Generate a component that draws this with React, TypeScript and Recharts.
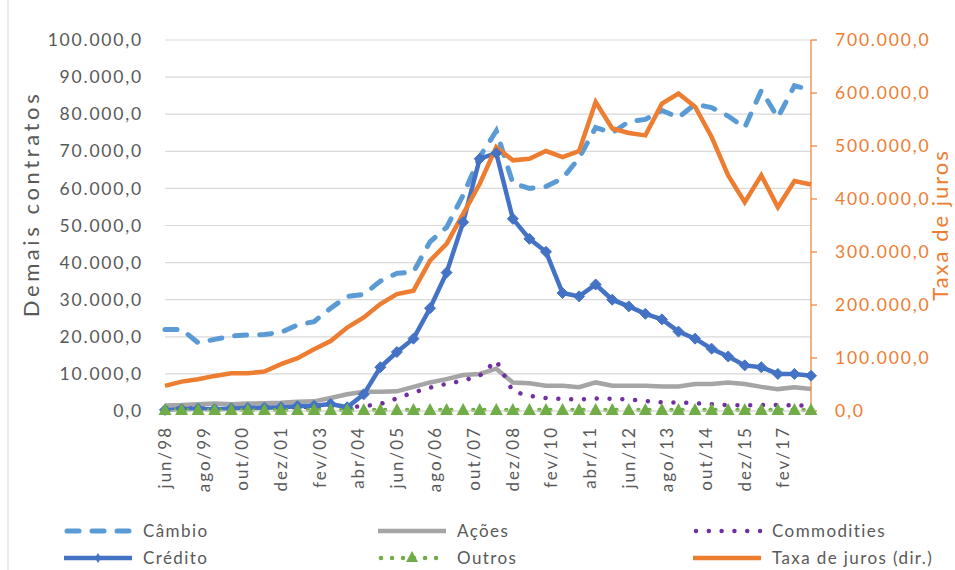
import React from 'react';
import { LineChart, Line, XAxis, YAxis, CartesianGrid } from 'recharts';

// semiannual observations
const periods = [
  'jun/98', 'dez/98', 'jun/99', 'dez/99', 'jun/00', 'dez/00', 'jun/01', 'dez/01',
  'jun/02', 'dez/02', 'jun/03', 'dez/03', 'jun/04', 'dez/04', 'jun/05', 'dez/05',
  'jun/06', 'dez/06', 'jun/07', 'dez/07', 'jun/08', 'dez/08', 'jun/09', 'dez/09',
  'jun/10', 'dez/10', 'jun/11', 'dez/11', 'jun/12', 'dez/12', 'jun/13', 'dez/13',
  'jun/14', 'dez/14', 'jun/15', 'dez/15', 'jun/16', 'dez/16', 'jun/17', 'dez/17',
];

const tickLabels = [
  'jun/98', 'ago/99', 'out/00', 'dez/01', 'fev/03', 'abr/04', 'jun/05', 'ago/06', 'out/07',
  'dez/08', 'fev/10', 'abr/11', 'jun/12', 'ago/13', 'out/14', 'dez/15', 'fev/17',
];

const cambio = [
  22000, 22000, 18400, 19300, 20200, 20500, 20600, 21200, 23200, 24100,
  27700, 30900, 31400, 35000, 37100, 37500, 45600, 49500, 58200, 68500,
  75500, 61400, 60000, 60500, 62700, 68200, 76400, 75000, 78000, 78600,
  81000, 79100, 82700, 81800, 79500, 76400, 86400, 79100, 87700, 86500,
];

const acoes = [
  1500, 1600, 1800, 2000, 1800, 2000, 2100, 2200, 2500, 2600,
  3500, 4500, 5200, 5200, 5300, 6500, 7700, 8600, 9700, 10000,
  11400, 7700, 7500, 6800, 6800, 6400, 7700, 6800, 6800, 6800,
  6600, 6600, 7300, 7300, 7700, 7300, 6500, 5900, 6400, 5900,
];

const commodities = [
  500, 600, 700, 600, 800, 800, 900, 1000, 1000, 1100,
  1000, 1000, 1300, 1900, 3400, 5000, 6300, 7300, 8200, 9500,
  13600, 5300, 4100, 3500, 3200, 3100, 3400, 3300, 3100, 2700,
  2300, 2300, 2100, 1800, 1600, 1500, 1600, 1600, 1500, 1500,
];

const credito = [
  300, 500, 600, 500, 700, 800, 900, 1000, 1300, 1400,
  1900, 1000, 4500, 11800, 15900, 19500, 27700, 37300, 50900, 68000,
  69500, 51800, 46400, 42900, 31800, 30900, 34100, 30000, 28200, 26200,
  24700, 21400, 19500, 16800, 14700, 12300, 11800, 10000, 10000, 9500,
];

const outros = [
  300, 300, 300, 300, 300, 300, 300, 300, 300, 300,
  300, 300, 300, 300, 300, 300, 300, 300, 300, 300,
  300, 300, 300, 300, 300, 300, 300, 300, 300, 300,
  300, 300, 300, 300, 300, 300, 300, 300, 300, 300,
];

const taxaJuros = [
  47300, 55500, 60000, 66200, 71200, 71200, 74400, 88300, 99600, 116600,
  132000, 157600, 176500, 201800, 220700, 227000, 283700, 315300, 372000, 428700,
  498000, 473000, 476000, 490500, 479000, 490500, 583000, 533000, 524600, 520000,
  580000, 599000, 574000, 517000, 444500, 394000, 444500, 384600, 434000, 427500,
];

const leftTicks = [0, 10000, 20000, 30000, 40000, 50000, 60000, 70000, 80000, 90000, 100000];
const rightTicks = [0, 100000, 200000, 300000, 400000, 500000, 600000, 700000];

const MONTHS = ['jan', 'fev', 'mar', 'abr', 'mai', 'jun', 'jul', 'ago', 'set', 'out', 'nov', 'dez'];
const monthNumber = (label: string) => {
  const [m, y] = label.split('/');
  const yy = Number(y);
  const year = yy < 50 ? 2000 + yy : 1900 + yy;
  return year * 12 + MONTHS.indexOf(m);
};
const base = monthNumber(periods[0]);
const lastMonth = monthNumber(periods[periods.length - 1]) - base;
const xTicks = tickLabels.map((l) => monthNumber(l) - base);
const labelByMonth: Record<number, string> = {};
tickLabels.forEach((l, i) => (labelByMonth[xTicks[i]] = l));

const data = periods.map((p, i) => ({
  t: monthNumber(p) - base,
  cambio: cambio[i],
  acoes: acoes[i],
  commodities: commodities[i],
  credito: credito[i],
  outros: outros[i],
  taxa: taxaJuros[i],
}));

const fmtBR = (v: number) =>
  Math.round(v).toString().replace(/\B(?=(\d{3})+(?!\d))/g, '.') + ',0';

const FONT = 'Lato, sans-serif';
const GREY_TEXT = '#595959';
const ORANGE = '#ED7D31';

const XTick = (props: any) => {
  const { x, y, payload } = props;
  return (
    <text
      x={x}
      y={y}
      dy="0.35em"
      transform={`rotate(-90, ${x}, ${y})`}
      textAnchor="end"
      fontFamily={FONT}
      fontSize={17}
      letterSpacing={2}
      fill={GREY_TEXT}
    >
      {labelByMonth[payload.value] ?? ''}
    </text>
  );
};

const LeftTick = (props: any) => {
  const { x, y, payload } = props;
  return (
    <text x={x} y={y} dy="0.35em" textAnchor="end" fontFamily={FONT} fontSize={17.5} letterSpacing={1.8} fill={GREY_TEXT}>
      {fmtBR(payload.value)}
    </text>
  );
};

const RightTick = (props: any) => {
  const { x, y, payload } = props;
  return (
    <text x={x} y={y} dy="0.35em" textAnchor="start" fontFamily={FONT} fontSize={17.5} letterSpacing={1.8} fill={ORANGE}>
      {fmtBR(payload.value)}
    </text>
  );
};

const Diamond = (props: any) => {
  const { cx, cy, index } = props;
  if (cx == null || cy == null) return <g key={index} />;
  const r = 5.5;
  return (
    <polygon
      key={index}
      points={`${cx},${cy - r} ${cx + r},${cy} ${cx},${cy + r} ${cx - r},${cy}`}
      fill="#4472C4"
      stroke="#4472C4"
      strokeWidth={1}
    />
  );
};

const Triangle = (props: any) => {
  const { cx, cy, index } = props;
  if (cx == null || cy == null) return <g key={index} />;
  return (
    <polygon
      key={index}
      points={`${cx},${cy - 7} ${cx + 6.5},${cy + 5} ${cx - 6.5},${cy + 5}`}
      fill="#70AD47"
    />
  );
};

const legendItems = [
  { name: 'Câmbio', color: '#5B9BD5', kind: 'dash', col: 0, row: 0 },
  { name: 'Ações', color: '#A5A5A5', kind: 'solid', col: 1, row: 0 },
  { name: 'Commodities', color: '#7030A0', kind: 'dot', col: 2, row: 0 },
  { name: 'Crédito', color: '#4472C4', kind: 'diamond', col: 0, row: 1 },
  { name: 'Outros', color: '#70AD47', kind: 'triangle', col: 1, row: 1 },
  { name: 'Taxa de juros (dir.)', color: ORANGE, kind: 'solid', col: 2, row: 1 },
];

const LegendIcon = ({ item, x, y }: { item: any; x: number; y: number }) => {
  const w = 68;
  if (item.kind === 'dash')
    return (
      <line x1={x + 3} y1={y} x2={x + w - 3} y2={y} stroke={item.color} strokeWidth={5}
        strokeDasharray="12 13" strokeLinecap="round" />
    );
  if (item.kind === 'dot')
    return (
      <line x1={x + 3} y1={y} x2={x + w} y2={y} stroke={item.color} strokeWidth={4.5}
        strokeDasharray="0.01 12.8" strokeLinecap="round" />
    );
  if (item.kind === 'triangle') {
    const cx = x + w / 2;
    return (
      <g>
        <line x1={x + 3} y1={y} x2={x + w} y2={y} stroke={item.color} strokeWidth={4.5}
          strokeDasharray="0.01 11" strokeLinecap="round" />
        <polygon points={`${cx},${y - 7} ${cx + 6},${y + 4} ${cx - 6},${y + 4}`} fill={item.color} />
      </g>
    );
  }
  if (item.kind === 'diamond') {
    const cx = x + w / 2;
    return (
      <g>
        <line x1={x} y1={y} x2={x + w} y2={y} stroke={item.color} strokeWidth={4.5} />
        <polygon points={`${cx},${y - 5} ${cx + 3},${y} ${cx},${y + 5} ${cx - 3},${y}`} fill={item.color} />
      </g>
    );
  }
  return <line x1={x} y1={y} x2={x + w} y2={y} stroke={item.color} strokeWidth={4.5} />;
};

const Overlay = () => {
  const colX = [64, 378, 693];
  const rowY = [531, 558];
  return (
    <svg width={955} height={570} style={{ position: 'absolute', left: 0, top: 0, pointerEvents: 'none' }}>
      <line x1={8} y1={0} x2={8} y2={570} stroke="#D9D9D9" strokeWidth={1} />
      <text x={31} y={204} dy="0.35em" transform="rotate(-90, 31, 204)" textAnchor="middle"
        fontFamily={FONT} fontSize={22} letterSpacing={3.6} fill={GREY_TEXT}>
        Demais contratos
      </text>
      <text x={940} y={225} dy="0.35em" transform="rotate(-90, 940, 225)" textAnchor="middle"
        fontFamily={FONT} fontSize={22} letterSpacing={2} fill={ORANGE}>
        Taxa de juros
      </text>
      {legendItems.map((it) => {
        const x = colX[it.col];
        const y = rowY[it.row];
        return (
          <g key={it.name}>
            <LegendIcon item={it} x={x} y={y} />
            <text x={x + 79} y={y} dy="0.35em" fontFamily={FONT} fontSize={17} letterSpacing={1.4} fill={GREY_TEXT}>
              {it.name}
            </text>
          </g>
        );
      })}
    </svg>
  );
};

export default function App() {
  return (
    <div style={{ position: 'absolute', left: 0, top: 0, width: 955, height: 570, background: '#fff' }}>
      <LineChart width={955} height={570} data={data} margin={{ top: 40, right: 0, bottom: 69, left: 0 }}>
        <CartesianGrid yAxisId="left" vertical={false} stroke="#D9D9D9" strokeWidth={1.2} />
        <XAxis
          dataKey="t"
          type="number"
          domain={[0, lastMonth]}
          ticks={xTicks}
          interval={0}
          height={90}
          tickLine={false}
          tickSize={0}
          tickMargin={15}
          axisLine={{ stroke: '#D9D9D9', strokeWidth: 1.2 }}
          tick={XTick}
        />
        <YAxis
          yAxisId="left"
          domain={[0, 100000]}
          ticks={leftTicks}
          interval={0}
          width={165}
          axisLine={false}
          tickLine={false}
          tickSize={0}
          tickMargin={22}
          tick={LeftTick}
        />
        <YAxis
          yAxisId="right"
          orientation="right"
          domain={[0, 700000]}
          ticks={rightTicks}
          interval={0}
          width={144}
          axisLine={{ stroke: ORANGE, strokeWidth: 1.2 }}
          tickLine={{ stroke: ORANGE, strokeWidth: 1.2 }}
          tickSize={6}
          tickMargin={18}
          tick={RightTick}
        />
        <Line yAxisId="left" dataKey="cambio" stroke="#5B9BD5" strokeWidth={5} strokeDasharray="12 13"
          strokeLinecap="round" dot={false} isAnimationActive={false} />
        <Line yAxisId="left" dataKey="acoes" stroke="#A5A5A5" strokeWidth={4.5} dot={false} isAnimationActive={false} />
        <Line yAxisId="left" dataKey="commodities" stroke="#7030A0" strokeWidth={4.5} strokeDasharray="0.01 12.8"
          strokeLinecap="round" dot={false} isAnimationActive={false} />
        <Line yAxisId="left" dataKey="credito" stroke="#4472C4" strokeWidth={4.5} dot={Diamond} isAnimationActive={false} />
        <Line yAxisId="left" dataKey="outros" stroke="#70AD47" strokeWidth={4.5} strokeDasharray="0.01 11"
          strokeLinecap="round" dot={Triangle} isAnimationActive={false} />
        <Line yAxisId="right" dataKey="taxa" stroke={ORANGE} strokeWidth={4.5} dot={false} isAnimationActive={false} />
      </LineChart>
      <Overlay />
    </div>
  );
}
